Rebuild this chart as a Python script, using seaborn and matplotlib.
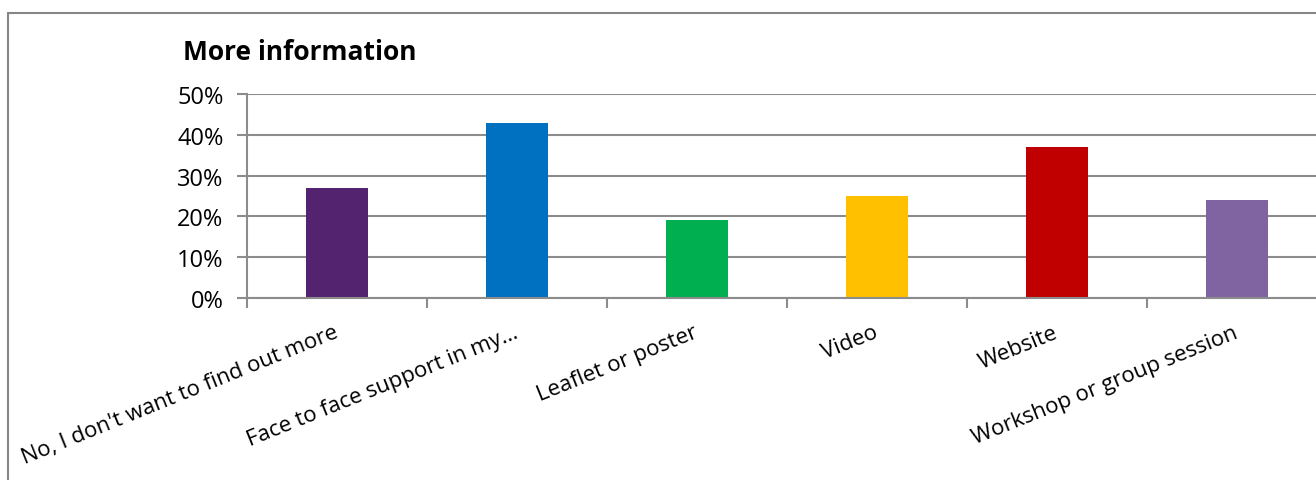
import matplotlib
matplotlib.use("Agg")
import matplotlib.pyplot as plt
import seaborn as sns
import pandas as pd
from matplotlib.patches import Rectangle
from matplotlib.ticker import FixedLocator, PercentFormatter

categories = [
    "No, I don't want to find out more",
    "Face to face support in my\u2026",
    "Leaflet or poster",
    "Video",
    "Website",
    "Workshop or group session",
]
shares = [27, 43, 19, 25, 37, 24]
bar_colors = ["#54236F", "#0070C0", "#00B050", "#FFC000", "#C00000", "#8064A2"]
y_ticks = [0, 10, 20, 30, 40, 50]

sns.set_theme(style="white")
plt.rcParams["font.family"] = ["Open Sans", "DejaVu Sans"]

W, H = 1316, 481
fig = plt.figure(figsize=(W / 100, H / 100), dpi=100)

# outer chart frame (runs off the right and bottom edges)
fig.patches.append(Rectangle((8 / W, -0.1), 1.2, 1 - 14 / H + 0.1,
                             transform=fig.transFigure, fill=False,
                             edgecolor="#868686", linewidth=1.5))

left, right, top, bottom = 247, 1327, 95, 299
ax = fig.add_axes([left / W, 1 - bottom / H, (right - left) / W, (bottom - top) / H])

df = pd.DataFrame({"category": categories, "share": shares})
sns.barplot(data=df, x="category", y="share", hue="category", palette=bar_colors,
            width=0.345, legend=False, ax=ax, saturation=1, linewidth=0)

ax.set_xlim(-0.5, len(categories) - 0.5)
ax.set_ylim(0, 50)
ax.set_xlabel("")
ax.set_ylabel("")

grid_c = "#8C8C8C"
ax.yaxis.set_major_locator(FixedLocator(y_ticks))
ax.yaxis.set_major_formatter(PercentFormatter(decimals=0))
ax.grid(axis="y", color=grid_c, linewidth=1.5)
ax.set_axisbelow(True)

# tick marks between categories, labels centred on the bars
ax.xaxis.set_major_locator(FixedLocator([i - 0.5 for i in range(len(categories) + 1)]))
ax.xaxis.set_major_formatter(plt.NullFormatter())
ax.xaxis.set_minor_locator(FixedLocator(list(range(len(categories)))))
ax.set_xticklabels(categories, minor=True)
ax.tick_params(axis="x", which="major", length=7, width=1.5, color=grid_c, direction="out", bottom=True)
ax.tick_params(axis="x", which="minor", length=0, pad=24, labelsize=16, labelcolor="black")
for lab in ax.get_xticklabels(minor=True):
    lab.set_rotation(22)
    lab.set_ha("right")
    lab.set_rotation_mode("anchor")
    lab.set_va("center")

ax.tick_params(axis="y", length=7, width=1.5, color=grid_c, direction="out", left=True,
               labelsize=17, labelcolor="black", pad=10)

for side in ["top", "right"]:
    ax.spines[side].set_visible(False)
for side in ["left", "bottom"]:
    ax.spines[side].set_color(grid_c)
    ax.spines[side].set_linewidth(1.5)

fig.text(183 / W, 1 - 52 / H, "More information", fontsize=19, fontweight="bold",
         ha="left", va="center", color="black")

fig.savefig("out.png", dpi=100)
